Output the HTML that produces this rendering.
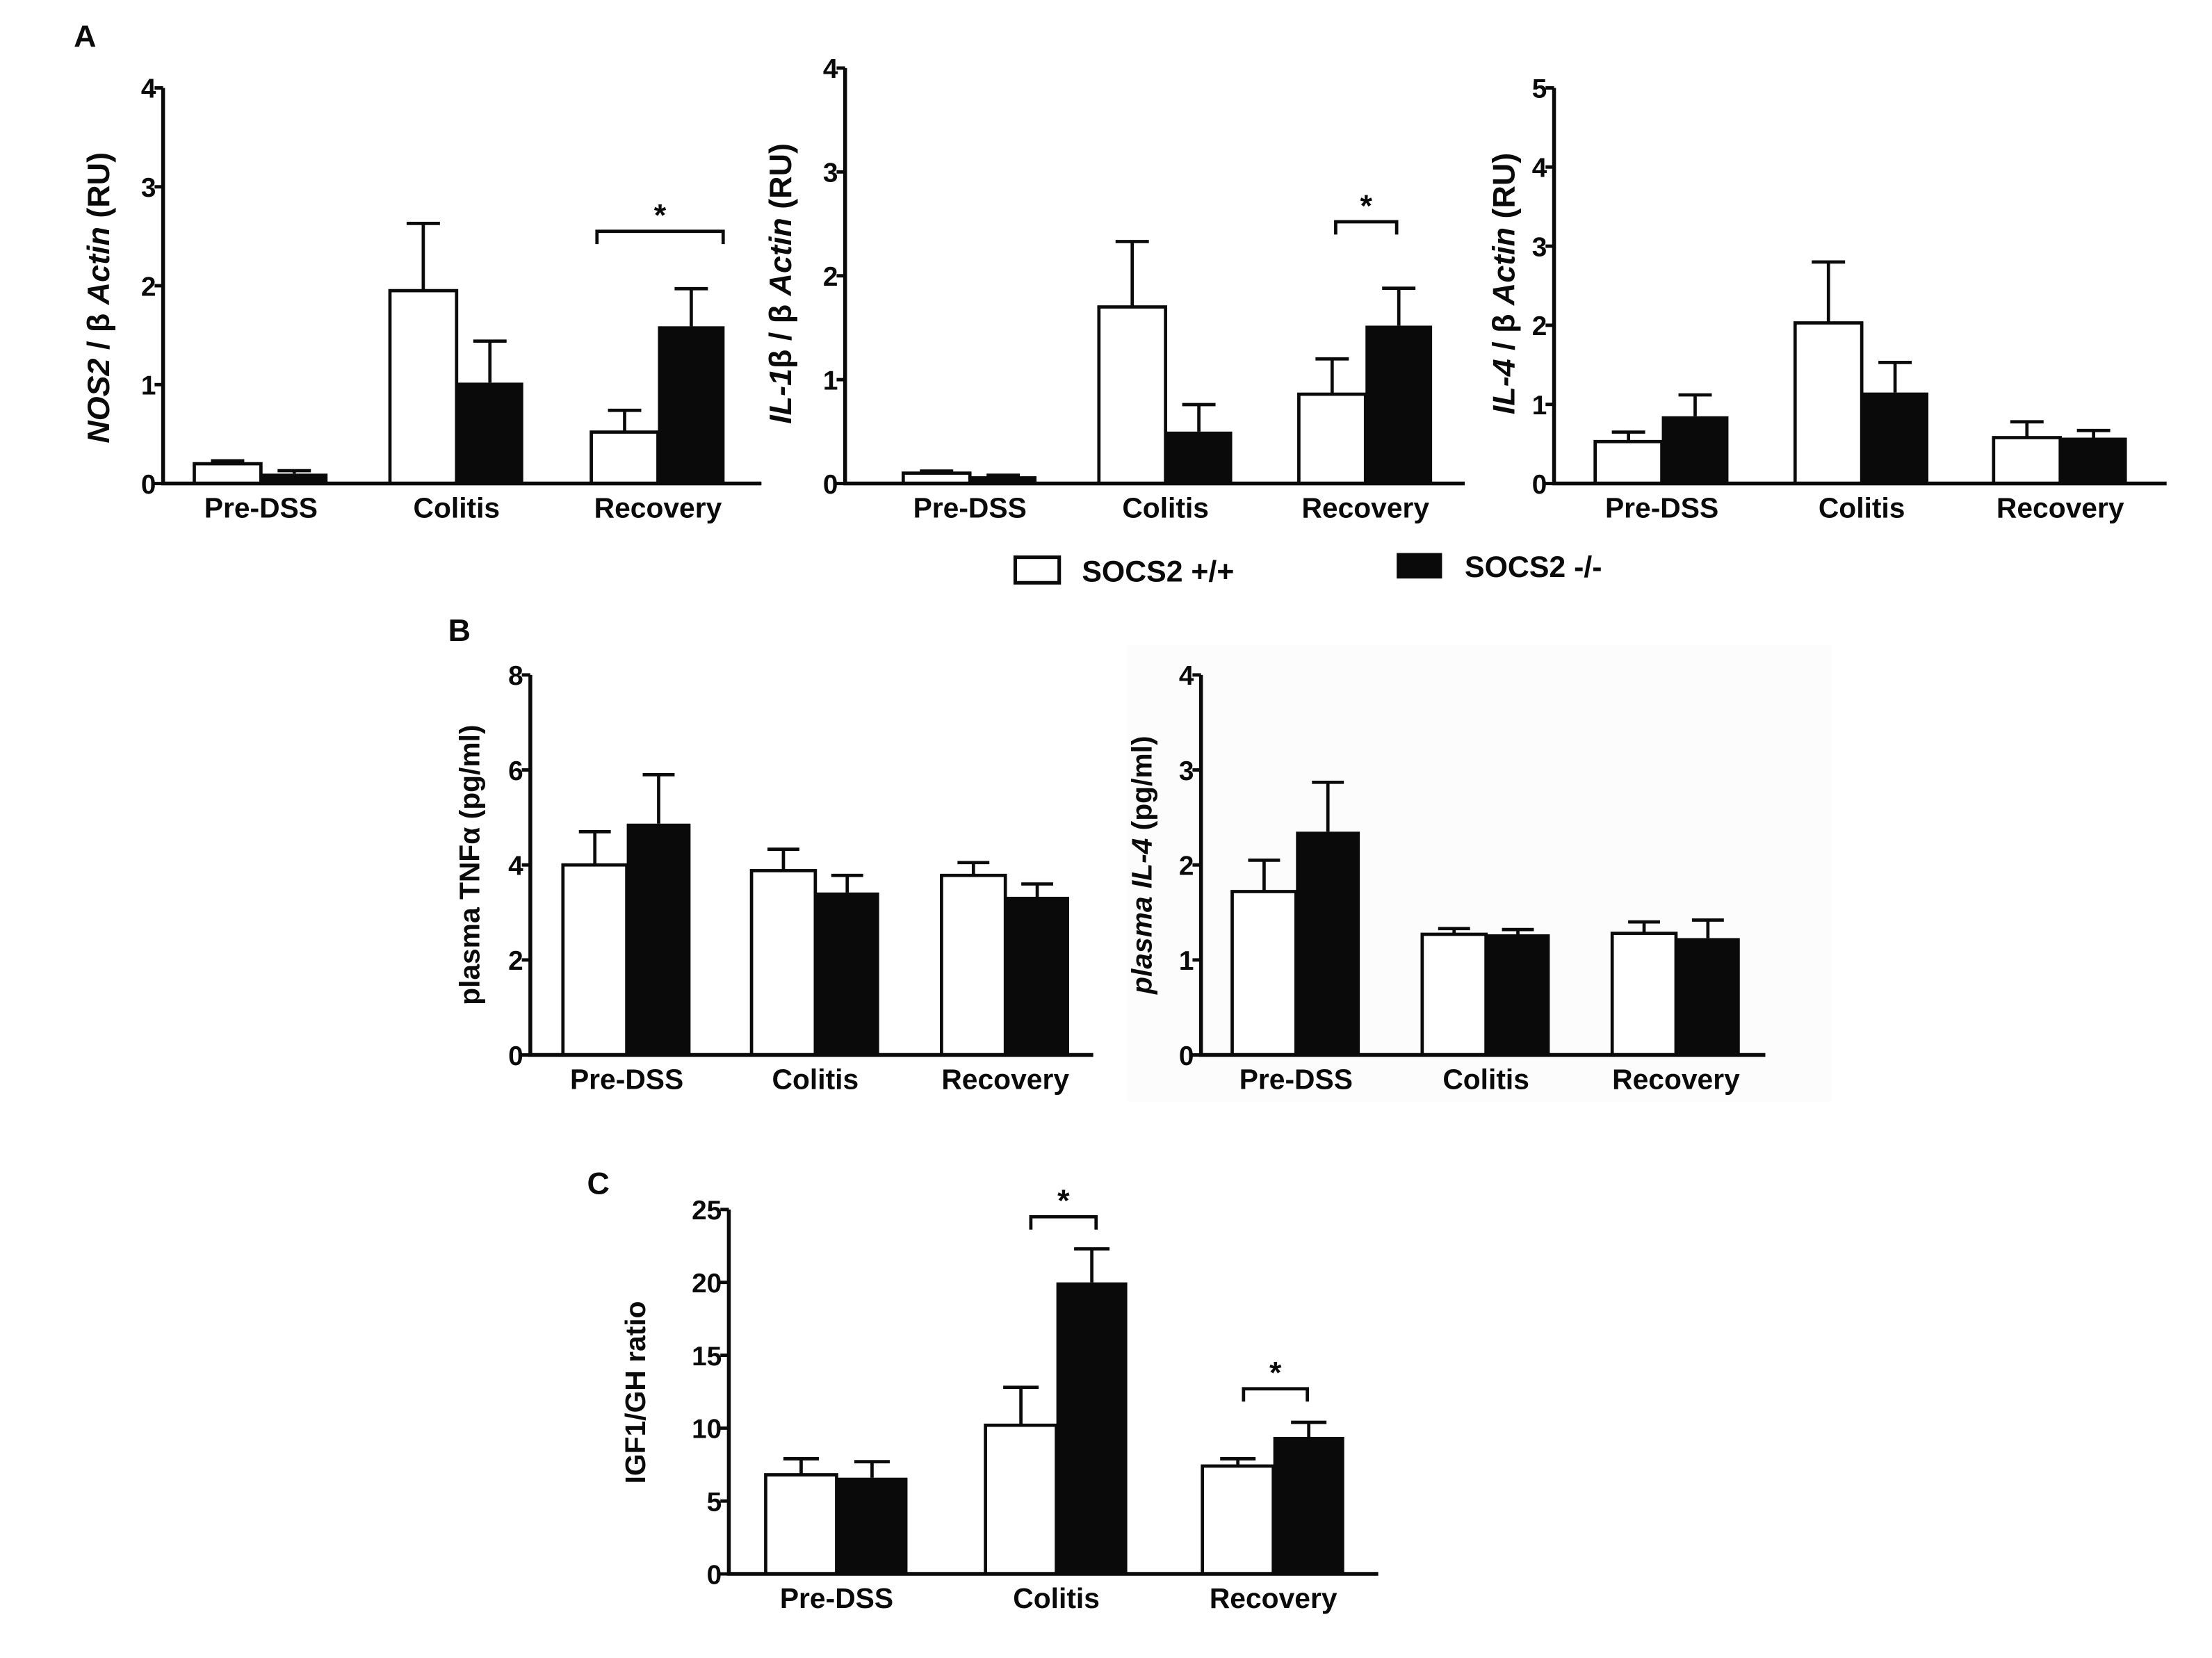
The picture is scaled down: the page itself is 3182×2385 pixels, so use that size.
<!DOCTYPE html>
<html><head><meta charset="utf-8"><style>
html,body{margin:0;padding:0;background:#fff;}
svg{display:block;}
text{font-family:"Liberation Sans Narrow","Liberation Sans",sans-serif;font-weight:bold;fill:#0a0a0a;}
</style></head><body>
<svg id="fig" xmlns="http://www.w3.org/2000/svg" width="3182" height="2385" viewBox="0 0 1560 1169.3">
<rect x="795" y="455" width="497" height="322" fill="#fcfcfc"/>
<text x="52" y="33" font-size="22" font-family="Liberation Sans">A</text>
<text x="316" y="452" font-size="22" font-family="Liberation Sans">B</text>
<text x="414" y="842" font-size="22" font-family="Liberation Sans">C</text>
<g>
<rect x="716" y="393" width="31" height="18" fill="#fff" stroke="#0a0a0a" stroke-width="2.5"/>
<text x="763" y="410" font-size="21">SOCS2 +/+</text>
<rect x="985" y="390" width="32" height="18" fill="#0a0a0a"/>
<text x="1033" y="407" font-size="21">SOCS2 -/-</text>
</g>
</svg>
<script>
const categories = ["Pre-DSS","Colitis","Recovery"];
const nos2Wt = [0.2, 1.95, 0.52];
const nos2WtErr = [0.23, 2.63, 0.74];
const nos2Ko = [0.1, 1.02, 1.59];
const nos2KoErr = [0.13, 1.44, 1.97];
const nos2Ticks = [0,1,2,3,4];
const il1Wt = [0.1, 1.7, 0.86];
const il1WtErr = [0.12, 2.33, 1.2];
const il1Ko = [0.07, 0.5, 1.52];
const il1KoErr = [0.08, 0.76, 1.88];
const il1Ticks = [0,1,2,3,4];
const il4Wt = [0.53, 2.03, 0.58];
const il4WtErr = [0.65, 2.8, 0.78];
const il4Ko = [0.85, 1.15, 0.58];
const il4KoErr = [1.12, 1.53, 0.67];
const il4Ticks = [0,1,2,3,4,5];
const tnfWt = [4.0, 3.88, 3.78];
const tnfWtErr = [4.7, 4.33, 4.05];
const tnfKo = [4.87, 3.42, 3.33];
const tnfKoErr = [5.9, 3.78, 3.6];
const tnfTicks = [0,2,4,6,8];
const pil4Wt = [1.72, 1.27, 1.28];
const pil4WtErr = [2.05, 1.33, 1.4];
const pil4Ko = [2.35, 1.27, 1.23];
const pil4KoErr = [2.87, 1.32, 1.42];
const pil4Ticks = [0,1,2,3,4];
const igfWt = [6.8, 10.2, 7.4];
const igfWtErr = [7.9, 12.8, 7.9];
const igfKo = [6.6, 20.0, 9.4];
const igfKoErr = [7.7, 22.3, 10.4];
const igfTicks = [0,5,10,15,20,25];

const NS="http://www.w3.org/2000/svg";
const svg=document.getElementById('fig');
function mk(tag,attrs,parent){const e=document.createElementNS(NS,tag);for(const k in attrs)e.setAttribute(k,attrs[k]);(parent||svg).appendChild(e);return e;}

function chart(cfg){
  const g=mk('g',{});
  
  
  const ymax=cfg.ticks[cfg.ticks.length-1];
  const y=v=>cfg.y0-(v/ymax)*(cfg.y0-cfg.yTop);
  const lw=2.3;
  for(let i=0;i<categories.length;i++){
    const gx=cfg.groups[i];
    const bw=cfg.bw;
    [[cfg.wt,cfg.wtErr,gx],[cfg.ko,cfg.koErr,gx+bw]].forEach((s,j)=>{
      const cx=s[2]+bw/2;
      const el=mk('path',{d:`M${cx},${y(s[0][i])} V${y(s[1][i])} M${cx-bw*0.25},${y(s[1][i])} H${cx+bw*0.25}`,stroke:'#0a0a0a','stroke-width':lw,fill:'none'},g);
      
      
    });
    const r1=mk('rect',{x:gx,y:y(cfg.wt[i]),width:bw,height:cfg.y0-y(cfg.wt[i]),fill:'#fff',stroke:'#0a0a0a','stroke-width':lw},g);
    
    
    const r2=mk('rect',{x:gx+bw,y:y(cfg.ko[i]),width:bw,height:cfg.y0-y(cfg.ko[i]),fill:'#0a0a0a'},g);
    
    
    const t=mk('text',{x:gx+bw,y:cfg.y0+24,'font-size':20,'text-anchor':'middle'},g);
    t.textContent=categories[i];
    
    
  }
  const ax=mk('path',{d:`M${cfg.ax},${cfg.yTop} V${cfg.y0} H${cfg.xEnd}`,stroke:'#0a0a0a','stroke-width':2.7,fill:'none'},g);
  
  
  cfg.ticks.forEach(v=>{
    const tk=mk('line',{x1:cfg.ax-6,x2:cfg.ax,y1:y(v),y2:y(v),stroke:'#0a0a0a','stroke-width':2.4},g);
    
    
    const tl=mk('text',{x:cfg.ax-5,y:y(v)+7,'font-size':19,'text-anchor':'end'},g);
    tl.textContent=v;
    
    
  });
  const tt=mk('text',{x:0,y:0,'font-size':cfg.tfs||22,'text-anchor':'middle',transform:`translate(${cfg.titleX},${cfg.titleY}) rotate(-90)`,'font-family':'Liberation Sans'},g);
  tt.innerHTML=cfg.title;
  
  
  (cfg.brackets||[]).forEach(b=>{
    const by=y(b[2]);
    const br=mk('path',{d:`M${b[0]},${by+9} V${by} H${b[1]} V${by+9}`,stroke:'#0a0a0a','stroke-width':2.3,fill:'none'},g);
    
    
    const st=mk('text',{x:(b[0]+b[1])/2,y:by-4,'font-size':22,'text-anchor':'middle'},g);
    st.textContent='*';
    
    
  });
}
chart({name:'chart-nos2',wt:nos2Wt,wtErr:nos2WtErr,ko:nos2Ko,koErr:nos2KoErr,ticks:nos2Ticks,ax:115,yTop:62,y0:341,xEnd:537,groups:[137,275,417],bw:47,titleX:77,titleY:210,
  title:'<tspan font-style="italic">NOS2</tspan> / β <tspan font-style="italic">Actin</tspan> (RU)'.replace(/^/,''),brackets:[[421,510,2.55]]});
chart({name:'chart-il1b',wt:il1Wt,wtErr:il1WtErr,ko:il1Ko,koErr:il1KoErr,ticks:il1Ticks,ax:596,yTop:48,y0:341,xEnd:1033,groups:[637,775,916],bw:47,titleX:558,titleY:200,
  title:'<tspan font-style="italic">IL-1</tspan>β / β <tspan font-style="italic">Actin</tspan> (RU)',brackets:[[942,985,2.52]]});
chart({name:'chart-il4',wt:il4Wt,wtErr:il4WtErr,ko:il4Ko,koErr:il4KoErr,ticks:il4Ticks,ax:1096,yTop:62,y0:341,xEnd:1528,groups:[1125,1266,1406],bw:47,titleX:1068,titleY:200,
  title:'<tspan font-style="italic">IL-4</tspan> / β <tspan font-style="italic">Actin</tspan> (RU)'});
chart({name:'chart-plasma-tnf',wt:tnfWt,wtErr:tnfWtErr,ko:tnfKo,koErr:tnfKoErr,ticks:tnfTicks,ax:374,yTop:476,y0:744,xEnd:771,groups:[397,530,664],bw:45,titleX:338,titleY:610,tfs:20,
  title:'plasma TNFα (pg/ml)'});
chart({name:'chart-plasma-il4',wt:pil4Wt,wtErr:pil4WtErr,ko:pil4Ko,koErr:pil4KoErr,ticks:pil4Ticks,ax:847,yTop:476,y0:744,xEnd:1245,groups:[869,1003,1137],bw:45,titleX:812,titleY:610,tfs:20,
  title:'<tspan font-style="italic">plasma IL-4</tspan> (pg/ml)'});
chart({name:'chart-igf1-gh',wt:igfWt,wtErr:igfWtErr,ko:igfKo,koErr:igfKoErr,ticks:igfTicks,ax:514,yTop:853,y0:1110,xEnd:972,groups:[540,695,848],bw:50,titleX:455,titleY:982,tfs:20,
  title:'IGF1/GH ratio',brackets:[[727,773,24.5],[877,922,12.7]]});
</script>
</body></html>
